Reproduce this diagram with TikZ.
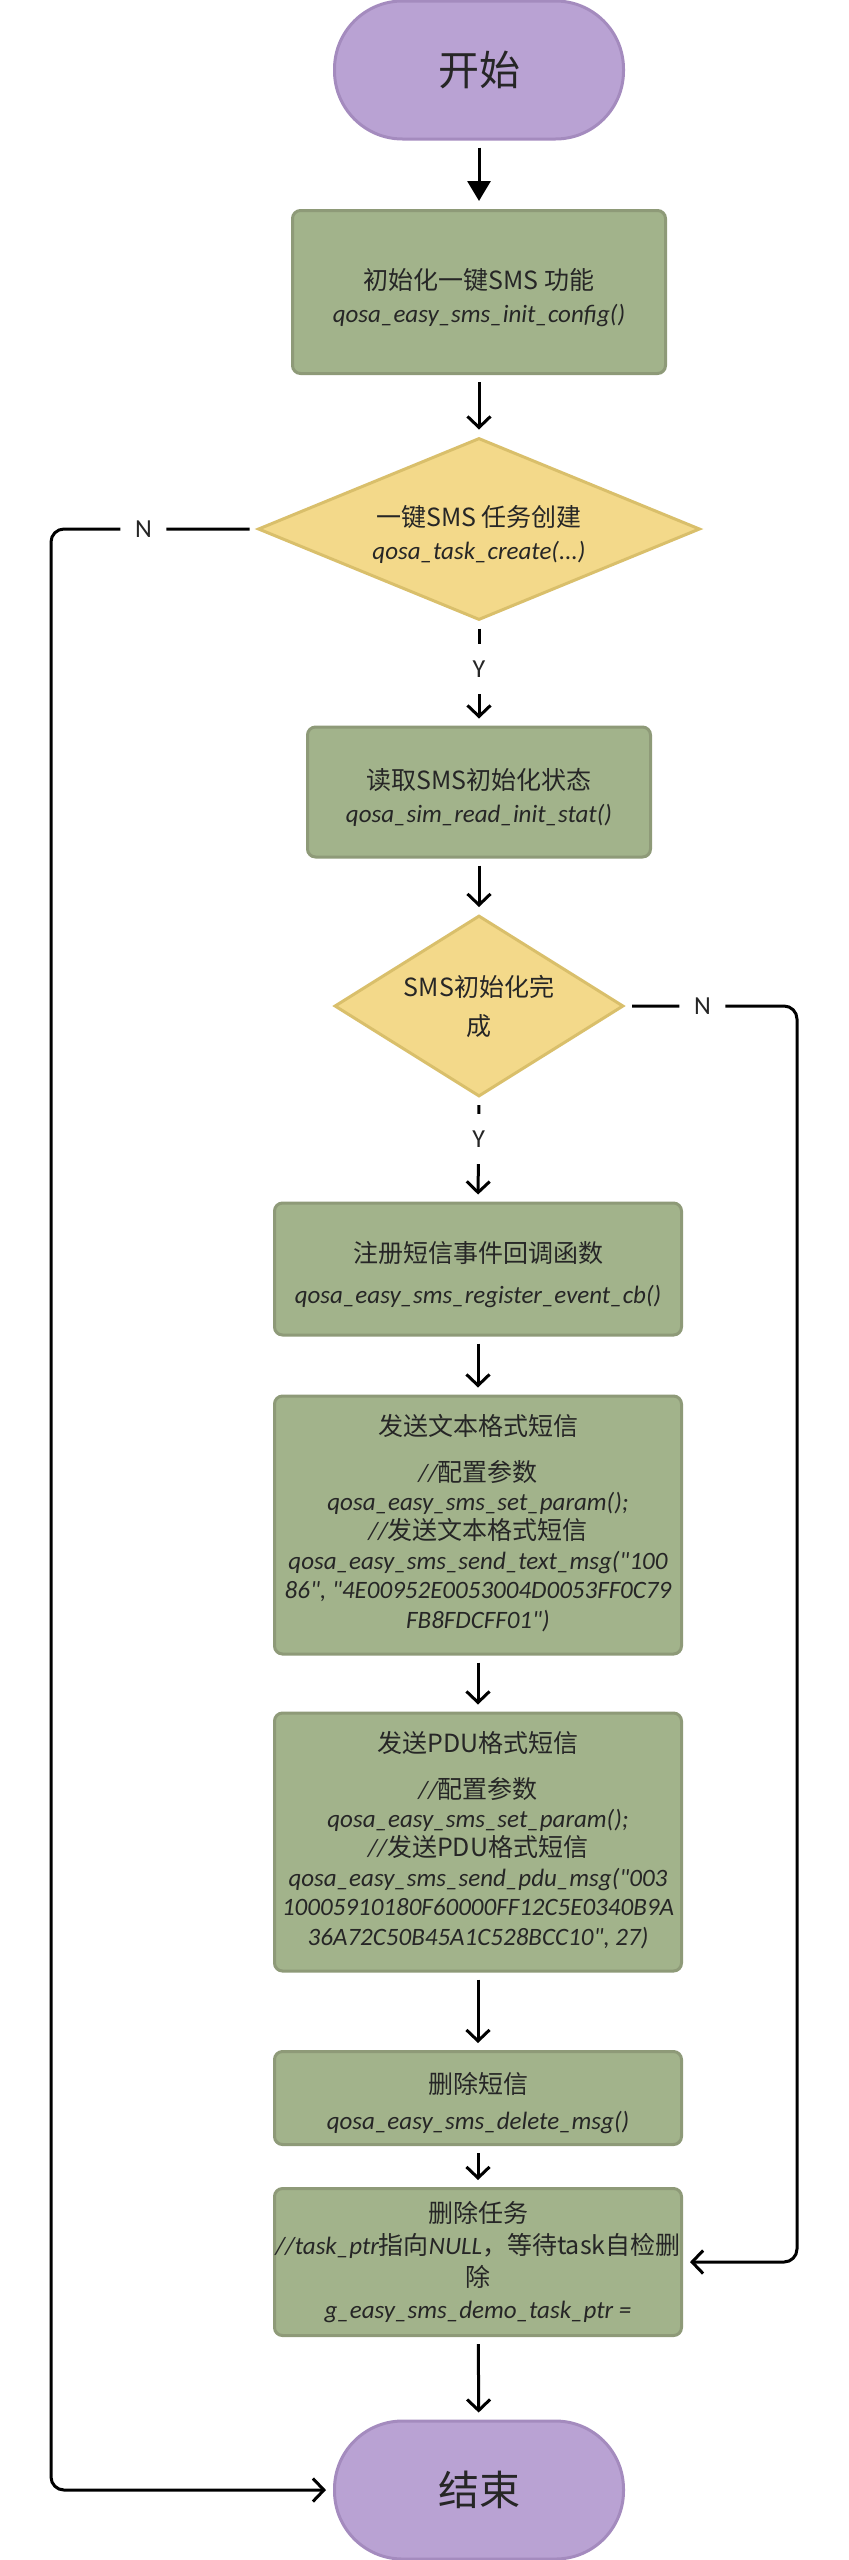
\documentclass[tikz,border=0pt]{standalone}
\usepackage{fontspec}
\setmainfont{Carlito}
\newfontfamily\codefam{Carlito}
\newfontfamily\cjk{Noto Sans CJK SC}
\usetikzlibrary{shapes.geometric,arrows.meta,positioning}
\definecolor{termfill}{HTML}{B9A2D3}
\definecolor{termline}{HTML}{A48BBE}
\definecolor{boxfill}{HTML}{A2B38B}
\definecolor{boxline}{HTML}{8E9A78}
\definecolor{decfill}{HTML}{F3D98A}
\definecolor{decline}{HTML}{D9BF6B}
\definecolor{ink}{HTML}{262626}
\newcommand\code[1]{{\codefam\itshape #1}}
\newcommand\lowtop{\rule{0pt}{16pt}}
\newcommand\lowend{\rule[-4pt]{0pt}{0pt}}
\tikzset{
  term/.style={draw=termline,fill=termfill,line width=1.5pt,rounded corners=34pt,
    minimum width=144.5pt,minimum height=69pt,text=ink,font=\cjk\fontsize{20.5}{24}\selectfont},
  stepbox/.style={draw=boxline,fill=boxfill,line width=1.5pt,rounded corners=4pt,
    align=center,inner sep=0pt,minimum width=203.5pt,text=ink,font=\cjk\fontsize{12.5}{16.5}\selectfont},
  decide/.style={diamond,draw=decline,fill=decfill,line width=1.5pt,inner sep=0pt,
    align=center,text=ink,font=\cjk\fontsize{12.5}{16.5}\selectfont},
  arr/.style={-{Straight Barb[length=5.5pt,width=11.5pt]},line width=1.5pt,
    shorten <=3.5pt,shorten >=3.5pt},
  lbl/.style={fill=white,inner sep=0pt,minimum width=23pt,minimum height=25pt,
    text=ink,font=\rmfamily\fontsize{13}{15}\selectfont}
}
\begin{document}
\begin{tikzpicture}[x=0.5pt,y=-0.5pt]
\useasboundingbox (0,0) rectangle (848,2560);

\node[term] (start) at (479,70) {开始};
\node[stepbox,minimum width=186.5pt,minimum height=81.5pt] (init) at (479,292)
  {\lowtop 初始化一键SMS 功能\\ \code{qosa\_easy\_sms\_init\_config()}};
\node[decide,shape aspect=2.4,minimum width=221pt,minimum height=91pt] (create) at (479,529)
  {\lowtop 一键SMS 任务创建\\ \code{qosa\_task\_create(...)}};
\node[stepbox,minimum width=171.5pt,minimum height=65pt] (readstat) at (479,792)
  {\lowtop 读取SMS初始化状态\\[0.5pt] \code{qosa\_sim\_read\_init\_stat()}};
\node[decide,shape aspect=1.6,minimum width=144.5pt,minimum height=90.5pt] (initok) at (479,1006)
  {SMS初始化完\\[3pt] 成};
\node[stepbox,minimum height=66pt] (register) at (478,1269)
  {\lowtop 注册短信事件回调函数\\[4pt] \code{qosa\_easy\_sms\_register\_event\_cb()}};
\node[stepbox,minimum height=129pt] (sendtext) at (478,1525)
  {发送文本格式短信\\[6.5pt]
   \code{//}配置参数\\[-1.8pt]
   \code{qosa\_easy\_sms\_set\_param();}\\[-1.8pt]
   \code{//}发送文本格式短信\\[-1.8pt]
   \code{qosa\_easy\_sms\_send\_text\_msg("100}\\[-1.8pt]
   \code{86", "4E00952E0053004D0053FF0C79}\\[-1.8pt]
   \code{FB8FDCFF01")}\lowend};
\node[stepbox,minimum height=129pt] (sendpdu) at (478,1842)
  {发送PDU格式短信\\[6.5pt]
   \code{//}配置参数\\[-1.8pt]
   \code{qosa\_easy\_sms\_set\_param();}\\[-1.8pt]
   \code{//}发送PDU格式短信\\[-1.8pt]
   \code{qosa\_easy\_sms\_send\_pdu\_msg("003}\\[-1.8pt]
   \code{10005910180F60000FF12C5E0340B9A}\\[-1.8pt]
   \code{36A72C50B45A1C528BCC10", 27)}\lowend};
\node[stepbox,minimum height=46.5pt] (delmsg) at (478,2098)
  {\lowtop 删除短信\\[1.5pt] \code{qosa\_easy\_sms\_delete\_msg()}};
\node[stepbox,minimum height=73.5pt] (deltask) at (478,2262)
  {删除任务\\[-0.5pt]
   \code{//task\_ptr}指向\code{NULL}，等待task自检删\\[-0.5pt]
   除\\[-0.5pt]
   \code{g\_easy\_sms\_demo\_task\_ptr =}};
\node[term] (end) at (479,2490) {结束};

\coordinate (lft) at (51,0);
\coordinate (rgt) at (797,0);

\draw[-{Triangle[length=10pt,width=11.5pt]},line width=1.5pt,shorten <=3.5pt,shorten >=4pt] (start) -- (init);
\draw[arr] (init) -- (create);
\draw[arr] (create.south) -- node[lbl,pos=0.46]{Y} (readstat.north);
\draw[arr] (readstat) -- (initok);
\draw[arr] (initok.south) -- node[lbl,pos=0.4]{Y} (register.north);
\draw[arr] (register) -- (sendtext);
\draw[arr] (sendtext) -- (sendpdu);
\draw[arr] (sendpdu) -- (delmsg);
\draw[arr] (delmsg) -- (deltask);
\draw[arr] (deltask) -- (end);
\draw[arr,rounded corners=6.5pt] (create.west) -- node[lbl,pos=0.55]{N} (create.west -| lft) |- (end.west);
\draw[arr,rounded corners=6.5pt] (initok.east) -- node[lbl,pos=0.45]{N} (initok.east -| rgt) |- (deltask.east);
\end{tikzpicture}
\end{document}
